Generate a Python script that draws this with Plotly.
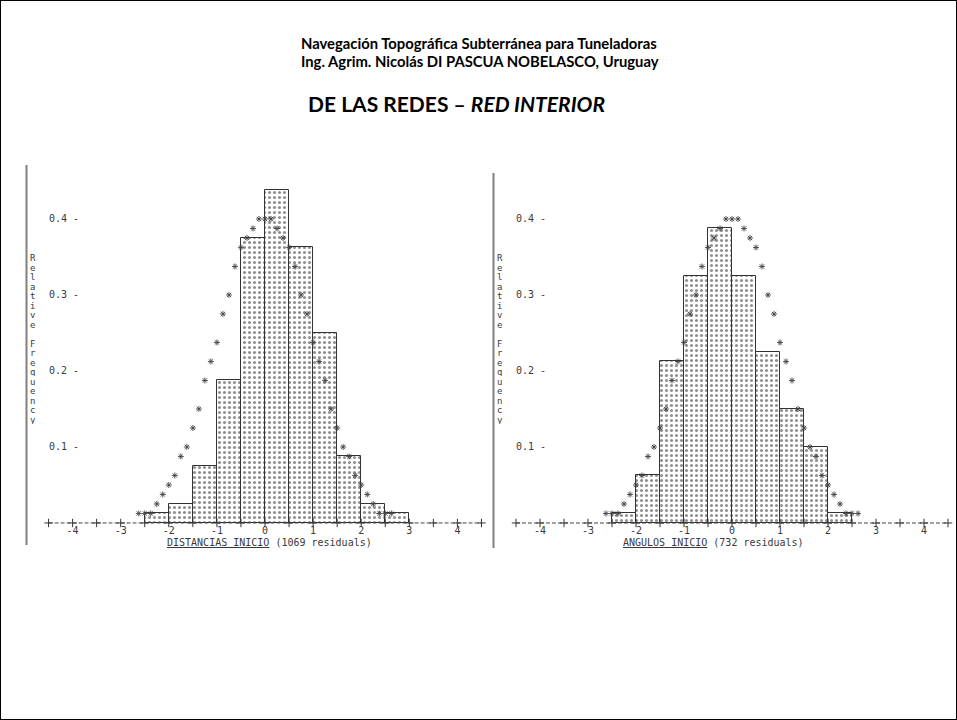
import plotly.graph_objects as go

# ---------------- data ----------------
bin_centers_dist = [-2.25, -1.75, -1.25, -0.75, -0.25, 0.25, 0.75, 1.25, 1.75, 2.25, 2.75]
freq_dist = [0.0125, 0.025, 0.075, 0.1875, 0.375, 0.4375, 0.3625, 0.25, 0.0875, 0.025, 0.0125]

bin_centers_ang = [-2.25, -1.75, -1.25, -0.75, -0.25, 0.25, 0.75, 1.25, 1.75, 2.25]
freq_ang = [0.0125, 0.0625, 0.2125, 0.325, 0.3875, 0.325, 0.225, 0.15, 0.1, 0.0125]

# reference normal curve drawn with '*'
star_x = [-2.625, -2.5, -2.375, -2.25, -2.125, -2.0, -1.875, -1.75, -1.625, -1.5, -1.375,
          -1.25, -1.125, -1.0, -0.875, -0.75, -0.625, -0.5, -0.375, -0.25, -0.125, 0.0,
          0.125, 0.25, 0.375, 0.5, 0.625, 0.75, 0.875, 1.0, 1.125, 1.25, 1.375, 1.5,
          1.625, 1.75, 1.875, 2.0, 2.125, 2.25, 2.375, 2.5, 2.625]
star_y = [0.0125, 0.0125, 0.0125, 0.025, 0.0375, 0.05, 0.0625, 0.0875, 0.1, 0.125, 0.15,
          0.1875, 0.2125, 0.2375, 0.275, 0.3, 0.3375, 0.3625, 0.375, 0.3875, 0.4, 0.4,
          0.4, 0.3875, 0.375, 0.3625, 0.3375, 0.3, 0.275, 0.2375, 0.2125, 0.1875, 0.15, 0.125,
          0.1, 0.0875, 0.0625, 0.05, 0.0375, 0.025, 0.0125, 0.0125, 0.0125]

x_ticks = [-4, -3, -2, -1, 0, 1, 2, 3, 4]
x_tick_labels = ["-4", "-3", "-2", "-1", "0", "1", "2", "3", "4"]
x_plus_marks = [-4.5, -4.0, -3.5, -3.0, -2.5, -2.0, -1.5, -1.0, -0.5, 0.0,
                0.5, 1.0, 1.5, 2.0, 2.5, 3.0, 3.5, 4.0, 4.5]
y_ticks = [0.1, 0.2, 0.3, 0.4]
y_tick_labels = ["0.1 -", "0.2 -", "0.3 -", "0.4 -"]
y_title = "Relative Frequency"
row_step = 0.0125

W, H = 957, 720
MONO = "DejaVu Sans Mono"
INK = "#3a3a3a"


def px_x(v):
    return v / W


def px_y(v):
    return 1 - v / H


fig = go.Figure()

panels = [
    dict(xa="x", ya="y", centers=bin_centers_dist, freq=freq_dist),
    dict(xa="x2", ya="y2", centers=bin_centers_ang, freq=freq_ang),
]

for p in panels:
    fig.add_trace(go.Bar(
        x=p["centers"], y=p["freq"], width=0.5, xaxis=p["xa"], yaxis=p["ya"],
        marker=dict(color="white", line=dict(color="#333", width=1),
                    pattern=dict(shape=".", fgcolor="#222", bgcolor="white",
                                 size=5, solidity=0.3)),
        showlegend=False, hoverinfo="skip"))
    fig.add_trace(go.Scatter(
        x=star_x, y=star_y, mode="markers", xaxis=p["xa"], yaxis=p["ya"],
        marker=dict(symbol="asterisk-open", size=5, color="#444",
                    line=dict(color="#444", width=0.9)),
        showlegend=False, hoverinfo="skip"))
    fig.add_trace(go.Scatter(
        x=x_plus_marks, y=[0] * len(x_plus_marks), mode="markers",
        xaxis=p["xa"], yaxis=p["ya"],
        marker=dict(symbol="cross-thin-open", size=6, color="#333",
                    line=dict(color="#333", width=1)),
        showlegend=False, hoverinfo="skip"))

axis_common_x = dict(tickvals=x_ticks, ticktext=x_tick_labels, showgrid=False,
                     zeroline=False, showline=False, ticks="",
                     tickfont=dict(family=MONO, size=10, color=INK),
                     anchor="free", position=px_y(523))
axis_common_y = dict(tickvals=y_ticks, ticktext=y_tick_labels, showgrid=False,
                     zeroline=False, showline=False, ticks="",
                     tickfont=dict(family=MONO, size=10, color=INK), anchor="free")

fig.update_layout(
    width=W, height=H,
    margin=dict(l=0, r=0, t=0, b=0),
    paper_bgcolor="white", plot_bgcolor="white",
    bargap=0,
    xaxis=dict(domain=[px_x(27), px_x(487)], range=[-4.948, 4.615], **axis_common_x),
    yaxis=dict(domain=[px_y(545), px_y(165)], range=[-0.029, 0.471],
               position=px_x(79), **axis_common_y),
    xaxis2=dict(domain=[px_x(494), px_x(953)], range=[-4.958, 4.604], **axis_common_x),
    yaxis2=dict(domain=[px_y(548), px_y(173)], range=[-0.0329, 0.4605],
                position=px_x(546), **axis_common_y),
)

shapes = []
for xa, ya in (("x", "y"), ("x2", "y2")):
    shapes.append(dict(type="line", xref=xa, yref=ya, x0=-4.5, x1=4.5, y0=0, y1=0,
                       line=dict(color="#444", width=1, dash="4px,2px")))
# grey window edges at the left of each plot
shapes.append(dict(type="line", xref="paper", yref="paper", x0=px_x(26.5), x1=px_x(26.5),
                   y0=px_y(165), y1=px_y(545), line=dict(color="#808080", width=2)))
shapes.append(dict(type="line", xref="paper", yref="paper", x0=px_x(493.5), x1=px_x(493.5),
                   y0=px_y(173), y1=px_y(548), line=dict(color="#808080", width=2)))
# slide frame
shapes.append(dict(type="rect", xref="paper", yref="paper", x0=0, x1=1, y0=0, y1=1,
                   line=dict(color="black", width=2)))
fig.update_layout(shapes=shapes)

ann = []
# stacked (one letter per text row) y-axis titles
for xpix, ya in ((28, "y"), (495, "y2")):
    for i, ch in enumerate(y_title):
        if ch == " ":
            continue
        ann.append(dict(text=ch, xref="paper", yref=ya, x=px_x(xpix),
                        y=0.349 - i * row_step, xanchor="left", yanchor="middle",
                        height=9, showarrow=False,
                        font=dict(family=MONO, size=9, color=INK)))

ann.append(dict(text="<u>DISTANCIAS INICIO</u> (1069 residuals)", xref="paper", yref="paper",
                x=px_x(165), y=px_y(542), xanchor="left", yanchor="middle", showarrow=False,
                font=dict(family=MONO, size=10, color=INK)))
ann.append(dict(text="<u>ANGULOS INICIO</u> (732 residuals)", xref="paper", yref="paper",
                x=px_x(621), y=px_y(542), xanchor="left", yanchor="middle", showarrow=False,
                font=dict(family=MONO, size=10, color=INK)))

ann.append(dict(text="<b>Navegación Topográfica Subterránea para Tuneladoras</b>",
                xref="paper", yref="paper", x=px_x(479), y=px_y(43), xanchor="center",
                yanchor="middle", showarrow=False,
                font=dict(family="Lato", size=14.8, color="black")))
ann.append(dict(text="<b>Ing. Agrim. Nicolás DI PASCUA NOBELASCO, Uruguay</b>",
                xref="paper", yref="paper", x=px_x(480), y=px_y(61), xanchor="center",
                yanchor="middle", showarrow=False,
                font=dict(family="Lato", size=14.8, color="black")))
ann.append(dict(text="<b>DE LAS REDES – <i>RED INTERIOR</i></b>",
                xref="paper", yref="paper", x=px_x(456), y=px_y(104), xanchor="center",
                yanchor="middle", showarrow=False,
                font=dict(family="Lato", size=21, color="black")))

fig.update_layout(annotations=ann)

fig.write_html("out.html", config={"displayModeBar": False},
               post_script="document.body.style.margin='0';")
